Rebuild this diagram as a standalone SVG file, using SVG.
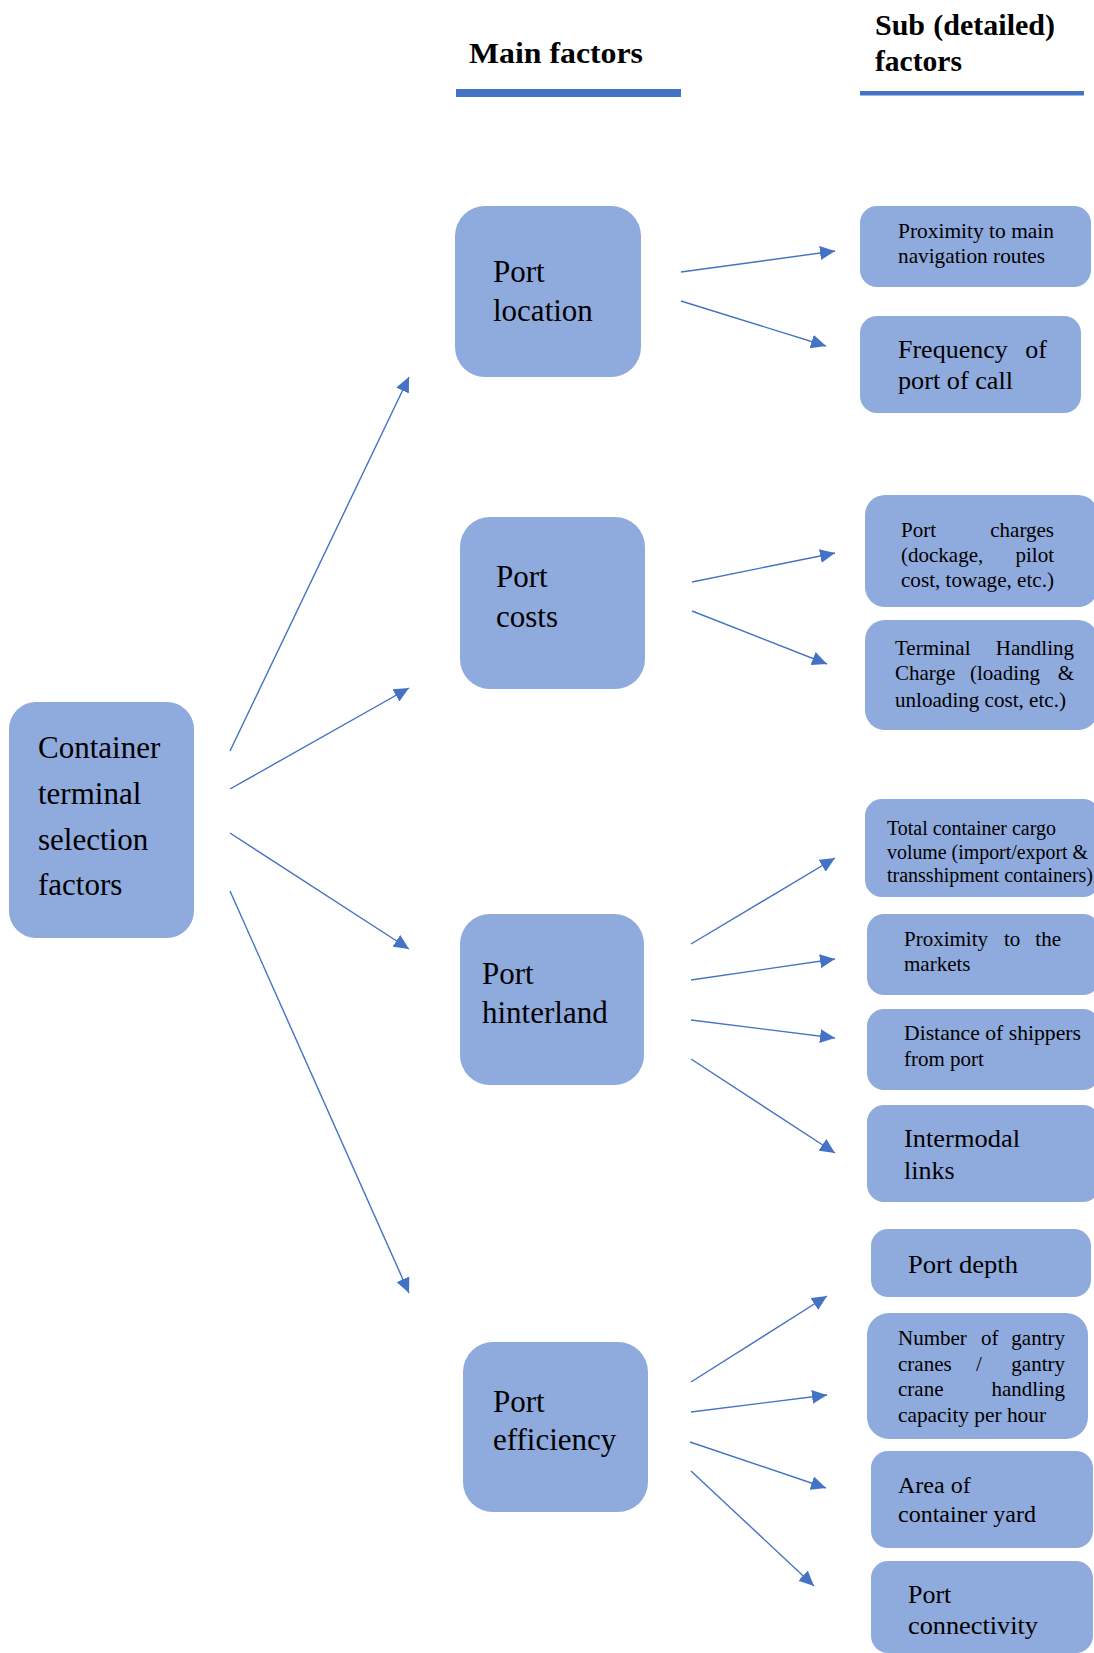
<svg xmlns="http://www.w3.org/2000/svg" width="1094" height="1653" viewBox="0 0 1094 1653">
<style>
.box{fill:#8FAADC;}
.t{font-family:"Liberation Serif","Times New Roman",serif;fill:#000;}
.hd{font-family:"Liberation Serif","Times New Roman",serif;font-weight:bold;font-size:30px;fill:#000;}
.big{font-size:31px;}
.med{font-size:26px;}
.sm{font-size:21px;}
.end{text-anchor:end;}
.ln{stroke:#4472C4;stroke-width:1.4;fill:none;marker-end:url(#ah);}
</style>
<defs>
<marker id="ah" markerUnits="userSpaceOnUse" markerWidth="16" markerHeight="14" refX="15" refY="7" orient="auto">
<path d="M0,0 L15,7 L0,14 z" fill="#4472C4"/>
</marker>
</defs>
<rect width="1094" height="1653" fill="#fff"/>
<g id="headers">
<text class="hd" x="469" y="63" textLength="174" lengthAdjust="spacingAndGlyphs">Main factors</text>
<rect x="456" y="89" width="225" height="8" fill="#4472C4"/>
<text class="hd" x="875" y="35">Sub</text>
<text class="hd end" x="1055" y="35">(detailed)</text>
<text class="hd" x="875" y="71" textLength="87" lengthAdjust="spacingAndGlyphs">factors</text>
<rect x="860" y="91" width="224" height="4.5" fill="#4472C4"/>
</g>
<g id="root">
<rect class="box" x="9" y="702" width="185" height="236" rx="27"/>
<text class="t big" x="38" y="758">Container</text>
<text class="t big" x="38" y="804">terminal</text>
<text class="t big" x="38" y="850">selection</text>
<text class="t big" x="38" y="895">factors</text>
</g>
<g id="port-location">
<rect class="box" x="455" y="206" width="186" height="171" rx="30"/>
<text class="t big" x="493" y="282">Port</text>
<text class="t big" x="493" y="321">location</text>
</g>
<g id="port-costs">
<rect class="box" x="460" y="517" width="185" height="172" rx="30"/>
<text class="t big" x="496" y="587">Port</text>
<text class="t big" x="496" y="627">costs</text>
</g>
<g id="port-hinterland">
<rect class="box" x="460" y="914" width="184" height="171" rx="30"/>
<text class="t big" x="482" y="984">Port</text>
<text class="t big" x="482" y="1023">hinterland</text>
</g>
<g id="port-efficiency">
<rect class="box" x="463" y="1342" width="185" height="170" rx="30"/>
<text class="t big" x="493" y="1412">Port</text>
<text class="t big" x="493" y="1450">efficiency</text>
</g>
<g id="sub-proximity-routes">
<rect class="box" x="860" y="206" width="231" height="81" rx="17"/>
<text class="t sm" x="898" y="237.5" textLength="156" lengthAdjust="spacingAndGlyphs">Proximity to main</text>
<text class="t sm" x="898" y="263" textLength="147" lengthAdjust="spacingAndGlyphs">navigation routes</text>
</g>
<g id="sub-frequency">
<rect class="box" x="860" y="316" width="221" height="97" rx="17"/>
<text class="t med" x="898" y="358">Frequency</text>
<text class="t med end" x="1047" y="358">of</text>
<text class="t med" x="898" y="389" textLength="115" lengthAdjust="spacingAndGlyphs">port of call</text>
</g>
<g id="sub-port-charges">
<rect class="box" x="865" y="495" width="233" height="112" rx="20"/>
<text class="t sm" x="901" y="537">Port</text>
<text class="t sm end" x="1054" y="537">charges</text>
<text class="t sm" x="901" y="562">(dockage,</text>
<text class="t sm end" x="1054" y="562">pilot</text>
<text class="t sm" x="901" y="587" textLength="153" lengthAdjust="spacingAndGlyphs">cost, towage, etc.)</text>
</g>
<g id="sub-terminal-handling">
<rect class="box" x="865" y="620" width="233" height="110" rx="20"/>
<text class="t sm" x="895" y="655">Terminal</text>
<text class="t sm end" x="1074" y="655">Handling</text>
<text class="t sm" x="895" y="680">Charge</text>
<text class="t sm" x="970" y="680">(loading</text>
<text class="t sm end" x="1074" y="680">&amp;</text>
<text class="t sm" x="895" y="707" textLength="171" lengthAdjust="spacingAndGlyphs">unloading cost, etc.)</text>
</g>
<g id="sub-total-volume">
<rect class="box" x="865" y="799" width="235" height="98" rx="17"/>
<text class="t" font-size="20" x="887" y="835" textLength="169" lengthAdjust="spacingAndGlyphs">Total container cargo</text>
<text class="t" font-size="20" x="887" y="859" textLength="201" lengthAdjust="spacingAndGlyphs">volume (import/export &amp;</text>
<text class="t" font-size="20" x="887" y="882" textLength="206" lengthAdjust="spacingAndGlyphs">transshipment containers)</text>
</g>
<g id="sub-proximity-markets">
<rect class="box" x="867" y="914" width="233" height="81" rx="17"/>
<text class="t sm" x="904" y="946">Proximity</text>
<text class="t sm" x="1004" y="946">to</text>
<text class="t sm end" x="1061" y="946">the</text>
<text class="t sm" x="904" y="971">markets</text>
</g>
<g id="sub-distance">
<rect class="box" x="867" y="1009" width="233" height="81" rx="17"/>
<text class="t sm" x="904" y="1040" textLength="177" lengthAdjust="spacingAndGlyphs">Distance of shippers</text>
<text class="t sm" x="904" y="1066">from port</text>
</g>
<g id="sub-intermodal">
<rect class="box" x="867" y="1105" width="233" height="97" rx="17"/>
<text class="t med" x="904" y="1147" textLength="116" lengthAdjust="spacingAndGlyphs">Intermodal</text>
<text class="t med" x="904" y="1179">links</text>
</g>
<g id="sub-port-depth">
<rect class="box" x="871" y="1229" width="220" height="68" rx="17"/>
<text class="t med" x="908" y="1273" textLength="110" lengthAdjust="spacingAndGlyphs">Port depth</text>
</g>
<g id="sub-gantry">
<rect class="box" x="867" y="1313" width="221" height="126" rx="22"/>
<text class="t sm" x="898" y="1345">Number</text>
<text class="t sm" x="981" y="1345">of</text>
<text class="t sm end" x="1065" y="1345">gantry</text>
<text class="t sm" x="898" y="1371">cranes</text>
<text class="t sm" x="976" y="1371">/</text>
<text class="t sm end" x="1065" y="1371">gantry</text>
<text class="t sm" x="898" y="1396">crane</text>
<text class="t sm end" x="1065" y="1396">handling</text>
<text class="t sm" x="898" y="1422" textLength="148" lengthAdjust="spacingAndGlyphs">capacity per hour</text>
</g>
<g id="sub-container-yard">
<rect class="box" x="871" y="1451" width="222" height="97" rx="17"/>
<text class="t" font-size="24" x="898" y="1493">Area of</text>
<text class="t" font-size="24" x="898" y="1522" textLength="138" lengthAdjust="spacingAndGlyphs">container yard</text>
</g>
<g id="sub-connectivity">
<rect class="box" x="871" y="1561" width="222" height="92" rx="17"/>
<text class="t med" x="908" y="1603">Port</text>
<text class="t med" x="908" y="1634" textLength="130" lengthAdjust="spacingAndGlyphs">connectivity</text>
</g>
<g id="connectors">
<line class="ln" x1="230" y1="751" x2="409" y2="377"/>
<line class="ln" x1="230" y1="789" x2="409" y2="688"/>
<line class="ln" x1="230" y1="833" x2="409" y2="949"/>
<line class="ln" x1="230" y1="891" x2="409" y2="1293"/>
<line class="ln" x1="681" y1="272" x2="835" y2="251"/>
<line class="ln" x1="681" y1="301" x2="826" y2="346"/>
<line class="ln" x1="692" y1="582" x2="835" y2="553"/>
<line class="ln" x1="692" y1="611" x2="827" y2="664"/>
<line class="ln" x1="691" y1="944" x2="835" y2="858"/>
<line class="ln" x1="691" y1="980" x2="835" y2="959"/>
<line class="ln" x1="691" y1="1020" x2="835" y2="1038"/>
<line class="ln" x1="691" y1="1059" x2="835" y2="1153"/>
<line class="ln" x1="691" y1="1382" x2="827" y2="1296"/>
<line class="ln" x1="691" y1="1412" x2="827" y2="1395"/>
<line class="ln" x1="690" y1="1442" x2="826" y2="1488"/>
<line class="ln" x1="691" y1="1471" x2="814" y2="1586"/>
</g>
</svg>
